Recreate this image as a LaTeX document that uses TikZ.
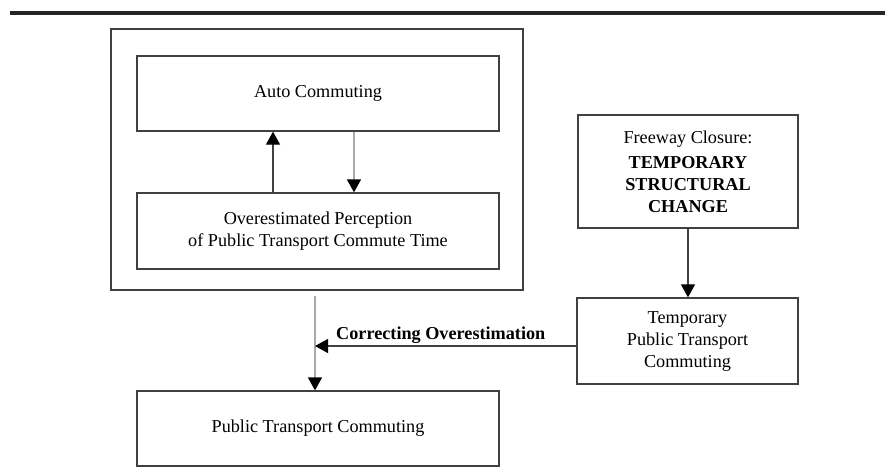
\documentclass[tikz,border=0pt]{standalone}
\usepackage{fontspec}
\setmainfont{Liberation Serif}
\usetikzlibrary{arrows.meta}
\definecolor{edge}{HTML}{404040}
\definecolor{soft}{HTML}{AAAAAA}
\tikzset{
  box/.style={draw=edge, line width=1.3pt, rectangle, align=center,
    inner sep=0pt, font=\fontsize{18.2}{22}\selectfont, text=black},
  tip/.style={-{Triangle[length=13pt,width=14pt,color=black]}},
  link/.style={tip, draw=edge, line width=1.3pt},
  softlink/.style={tip, draw=soft, line width=1.5pt},
}
\begin{document}
\begin{tikzpicture}[x=1pt,y=-1pt]
  \useasboundingbox (0,0) rectangle (885,475);
  % heading rule
  \fill[black!85] (10,11) rectangle (885,15);

  % feedback loop enclosed in a frame
  \node[box, minimum width=412pt, minimum height=261pt] (frame) at (317,159.5) {};
  \node[box, minimum width=362pt, minimum height=75pt] (auto) at (318,93.5) {Auto Commuting};
  \node[box, minimum width=362pt, minimum height=76pt] (over) at (318,231)
    {Overestimated Perception\\of Public Transport Commute Time};

  % external shock
  \node[box, minimum width=220pt, minimum height=113pt] (shock) at (688,171.5)
    {Freeway Closure:\\[3pt]\bfseries TEMPORARY\\\bfseries STRUCTURAL\\\bfseries CHANGE};
  \node[box, minimum width=221pt, minimum height=86pt] (temp) at (687.5,341)
    {Temporary\\Public Transport\\Commuting};

  % outcome
  \node[box, minimum width=362pt, minimum height=75pt] (pt) at (318,428.5)
    {Public Transport Commuting};

  % helper positions for the connectors
  \coordinate (upx) at (273,0);
  \coordinate (dnx) at (354,0);
  \coordinate (gtop) at (315,296);
  \coordinate (cy) at (0,346);

  \draw[link] (over.north -| upx) -- (auto.south -| upx);
  \draw[softlink] (auto.south -| dnx) -- (over.north -| dnx);
  \draw[link] (shock.south) -- (temp.north -| shock.south);
  \draw[softlink] (gtop) -- (pt.north -| gtop);
  \draw[link] (temp.west |- cy) -- (gtop |- cy);

  \node[anchor=base west, inner sep=0pt, text=black,
    font=\fontsize{18.2}{22}\selectfont\bfseries] (corr) at (336,339)
    {Correcting Overestimation};
\end{tikzpicture}
\end{document}
